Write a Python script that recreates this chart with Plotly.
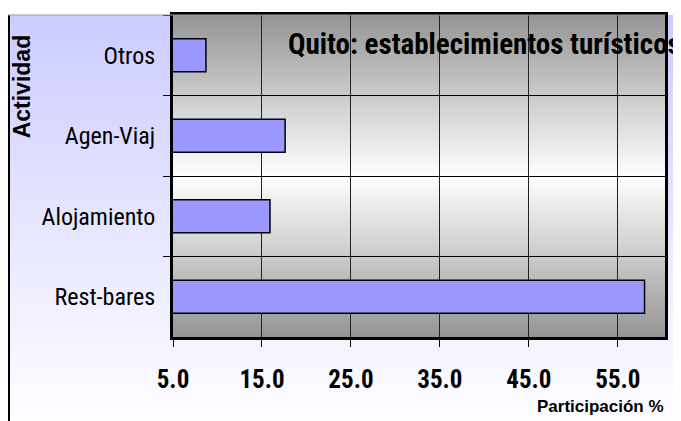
import base64
import plotly.graph_objects as go

categories = ["Otros", "Agen-Viaj", "Alojamiento", "Rest-bares"]
values = [8.7, 17.6, 15.9, 58.0]
x_tickvals = [5, 15, 25, 35, 45, 55]
x_ticktext = ["5.0", "15.0", "25.0", "35.0", "45.0", "55.0"]

title_text = "Quito: establecimientos turísticos"
y_title = "Actividad"
x_title = "Participación %"

NARROW = "Roboto Condensed, Liberation Sans Narrow, Arial Narrow, sans-serif"
SANS = "Liberation Sans, Arial, sans-serif"

# page offset (body margin) of the rendered figure
OFF = 8
W, H = 681 - OFF, 421 - OFF
# plot area in screen pixels
PL, PR, PT, PB = 173, 665, 12, 337
ML, MR, MT, MB = PL - OFF, 681 - PR, PT - OFF, 421 - PB
PW = PR - PL
PH = PB - PT


def px_x(s):
    return (s - PL) / PW


def px_y(s):
    return (PB - s) / PH


def grad_uri(stops):
    st = "".join(f'<stop offset="{o}" stop-color="{c}"/>' for o, c in stops)
    svg = (
        '<svg xmlns="http://www.w3.org/2000/svg" width="100" height="100" preserveAspectRatio="none">'
        f'<defs><linearGradient id="g" x1="0" y1="0" x2="0" y2="1">{st}</linearGradient></defs>'
        '<rect x="0" y="0" width="100" height="100" fill="url(#g)"/></svg>'
    )
    return "data:image/svg+xml;base64," + base64.b64encode(svg.encode()).decode()


outer_uri = grad_uri([(0, "#ccccff"), (1, "#ffffff")])
plot_uri = grad_uri([(0, "#959595"), (0.5, "#ffffff"), (1, "#959595")])

fig = go.Figure(
    go.Bar(
        y=categories,
        x=values,
        orientation="h",
        marker=dict(color="#9999ff", line=dict(color="#000000", width=1.5)),
        width=0.41,
    )
)

fig.update_layout(
    width=W,
    height=H,
    margin=dict(l=ML, r=MR, t=MT, b=MB),
    paper_bgcolor="#ffffff",
    plot_bgcolor="rgba(0,0,0,0)",
    showlegend=False,
    images=[
        dict(source=outer_uri, xref="paper", yref="paper", x=px_x(8), y=1.0,
             sizex=px_x(700) - px_x(8), sizey=1.0 - px_y(430),
             xanchor="left", yanchor="top", sizing="stretch", layer="below"),
        dict(source=plot_uri, xref="paper", yref="paper", x=0, y=1,
             sizex=1, sizey=1, xanchor="left", yanchor="top",
             sizing="stretch", layer="below"),
    ],
    shapes=[
        dict(type="line", xref="paper", yref="paper", x0=px_x(9), x1=px_x(9),
             y0=1.0, y1=px_y(430), line=dict(color="#000000", width=2)),
        dict(type="line", xref="paper", yref="paper", x0=px_x(8), x1=1.0,
             y0=1.0, y1=1.0, line=dict(color="#9a9ab0", width=1)),
    ],
    xaxis=dict(
        range=[5, 60.3],
        tickvals=x_tickvals,
        ticktext=x_ticktext,
        showgrid=True,
        gridcolor="#222222",
        gridwidth=1,
        ticks="outside",
        ticklen=7,
        tickcolor="#000000",
        tickwidth=1,
        showline=True,
        linecolor="#000000",
        linewidth=3,
        mirror=True,
        zeroline=False,
        tickfont=dict(family=NARROW, size=25, color="#000000", weight="bold"),
        ticklabelstandoff=11,
    ),
    yaxis=dict(
        categoryorder="array",
        categoryarray=categories,
        autorange="reversed",
        tickson="boundaries",
        showgrid=True,
        gridcolor="#000000",
        gridwidth=1,
        ticks="outside",
        ticklen=7,
        tickcolor="#000000",
        tickwidth=1,
        showline=True,
        linecolor="#000000",
        linewidth=3,
        mirror=True,
        zeroline=False,
        tickfont=dict(family=NARROW, size=24, color="#000000"),
        ticklabelstandoff=10,
    ),
    annotations=[
        dict(text=title_text, xref="paper", yref="paper", x=px_x(286), y=px_y(41),
             xanchor="left", yanchor="middle", showarrow=False,
             font=dict(family=NARROW, size=29, color="#000000", weight="bold")),
        dict(text=y_title, xref="paper", yref="paper", x=px_x(22), y=px_y(84),
             xanchor="center", yanchor="middle", textangle=-90, showarrow=False,
             font=dict(family=SANS, size=23, color="#000000", weight="bold")),
        dict(text=x_title, xref="paper", yref="paper", x=px_x(666), y=px_y(407),
             xanchor="right", yanchor="middle", showarrow=False,
             font=dict(family=SANS, size=17, color="#000000", weight="bold")),
    ],
)

fig.write_html("out.html")
